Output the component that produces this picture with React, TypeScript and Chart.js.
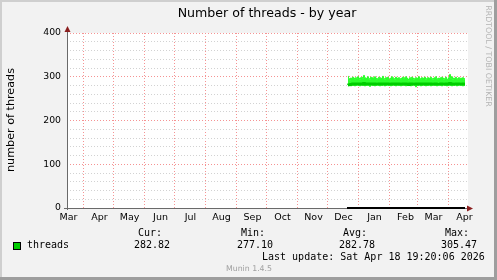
import React, { useEffect, useRef } from 'react';
import { Chart, registerables } from 'chart.js';

Chart.register(...registerables);

// ---- data ----
const monthNames = ['Mar', 'Apr', 'May', 'Jun', 'Jul', 'Aug', 'Sep', 'Oct', 'Nov', 'Dec', 'Jan', 'Feb', 'Mar', 'Apr'];
// day number (counted from 16 Mar 2025) of the first day of each month
const monthStartDays = [-15, 16, 46, 77, 107, 138, 169, 199, 230, 260, 291, 322, 350, 381];
const axisDays = [0, 400];
const yTicks = [0, 100, 200, 300, 400];

const firstDataDay = 281;
const threadsMax = [
  301, 296, 292, 297, 295, 299, 297, 293, 298, 296,
  300, 297, 294, 298, 299, 296, 303, 298, 295, 297,
  300, 296, 294, 299, 297, 298, 295, 300, 297, 293,
  296, 299, 298, 295, 297, 301, 296, 294, 298, 297,
  299, 295, 293, 297, 300, 298, 296, 294, 299, 297,
  295, 298, 296, 293, 297, 299, 296, 298, 300, 297,
  295, 292, 298, 296, 299, 297, 294, 296, 298, 295,
  297, 300, 296, 293, 298, 295, 297, 299, 294, 296,
  298, 297, 295, 299, 296, 294, 297, 298, 300, 296,
  293, 297, 295, 298, 299, 297, 294, 296, 299, 295,
  293, 298, 305, 296, 300, 294, 297, 295, 299, 296,
  293, 298, 296, 297, 295, 298, 294, 296,
];
const threadsMin = [
  279, 280, 281, 279, 281, 280, 281, 279, 280, 281,
  281, 280, 279, 281, 281, 280, 281, 279, 280, 281,
  281, 280, 278, 281, 281, 280, 281, 279, 280, 281,
  281, 280, 279, 281, 280, 281, 281, 279, 280, 281,
  281, 280, 281, 279, 280, 281, 281, 280, 279, 281,
  281, 280, 281, 279, 280, 281, 281, 280, 279, 281,
  280, 281, 281, 279, 280, 281, 281, 280, 277, 281,
  280, 281, 281, 279, 280, 281, 281, 280, 279, 281,
  280, 281, 281, 279, 280, 281, 281, 280, 281, 279,
  280, 281, 281, 280, 279, 281, 281, 280, 281, 279,
  280, 281, 281, 280, 279, 281, 280, 281, 281, 279,
  280, 281, 281, 280, 281, 279, 280, 281,
];
const threadsAvg = [
  281, 282, 282, 283, 283, 284, 283, 283, 284, 283,
  284, 283, 283, 284, 284, 283, 285, 284, 283, 283,
  284, 283, 283, 284, 283, 284, 283, 284, 283, 283,
  283, 284, 284, 283, 283, 284, 283, 283, 284, 283,
  284, 283, 283, 283, 284, 284, 283, 283, 284, 283,
  283, 284, 283, 283, 283, 284, 283, 284, 284, 283,
  283, 282, 284, 283, 284, 283, 283, 283, 284, 283,
  283, 284, 283, 283, 284, 283, 283, 284, 283, 283,
  284, 283, 283, 284, 283, 283, 283, 284, 284, 283,
  283, 283, 283, 284, 284, 283, 283, 283, 284, 283,
  283, 284, 285, 283, 284, 283, 283, 283, 284, 283,
  283, 284, 283, 283, 283, 284, 283, 283,
];
const baselineDays = [280, 398];
const baselineValues = [0, 0];

const seriesName = 'threads';
const statLabels = ['Cur:', 'Min:', 'Avg:', 'Max:'];
const statValues = ['282.82', '277.10', '282.78', '305.47'];
const titleText = 'Number of threads - by year';
const yAxisTitle = 'number of threads';
const lastUpdate = 'Last update: Sat Apr 18 19:20:06 2026';
const creditText = 'RRDTOOL / TOBI OETIKER';
const versionText = 'Munin 1.4.5';

// ---- styles ----
const W = 497;
const H = 280;
const SANS = '"DejaVu Sans", sans-serif';
const MONO = '"DejaVu Sans Mono", monospace';
const MAJOR_GRID = '#f59393';
const MINOR_GRID = '#d2d2d2';
const LINE_GREEN = '#00cc00';
const BAND_GREEN = '#2cff2c';
const ARROW = '#8b1f1f';
const AXIS = '#6a6a6a';

const labelDays = monthStartDays.map((d) => d + 16.5);

const framePlugin = {
  id: 'frame',
  beforeDraw(chart: any) {
    const { ctx, chartArea: a } = chart;
    ctx.save();
    ctx.fillStyle = '#ffffff';
    ctx.fillRect(a.left, a.top, a.right - a.left + 1, a.bottom - a.top);
    ctx.restore();
  },
  beforeDatasetsDraw(chart: any) {
    const { ctx, chartArea: a } = chart;
    ctx.save();
    ctx.strokeStyle = AXIS;
    ctx.lineWidth = 1;
    ctx.beginPath();
    ctx.moveTo(a.left - 3, a.bottom + 0.5);
    ctx.lineTo(a.right + 1, a.bottom + 0.5);
    ctx.moveTo(a.left + 0.5, a.bottom + 2);
    ctx.lineTo(a.left + 0.5, a.top - 2);
    ctx.stroke();
    ctx.restore();
  },
  afterDraw(chart: any) {
    const { ctx, chartArea: a } = chart;
    ctx.save();
    ctx.fillStyle = ARROW;
    ctx.beginPath();
    ctx.moveTo(a.left + 0.5, a.top - 7);
    ctx.lineTo(a.left - 2.5, a.top - 1);
    ctx.lineTo(a.left + 3.5, a.top - 1);
    ctx.closePath();
    ctx.fill();
    ctx.beginPath();
    ctx.moveTo(a.right + 6, a.bottom + 0.5);
    ctx.lineTo(a.right, a.bottom - 2.5);
    ctx.lineTo(a.right, a.bottom + 3.5);
    ctx.closePath();
    ctx.fill();
    ctx.restore();
  },
};

export default function App() {
  const ref = useRef<HTMLCanvasElement | null>(null);

  useEffect(() => {
    document.body.style.margin = '0';
    const canvas = ref.current;
    if (!canvas) return;

    const pts = (vals: number[]) => vals.map((y, i) => ({ x: firstDataDay + i, y }));

    const chart = new Chart(canvas, {
      type: 'line',
      data: {
        datasets: [
          {
            label: 'max',
            data: pts(threadsMax),
            borderColor: BAND_GREEN,
            backgroundColor: BAND_GREEN,
            borderWidth: 1,
            stepped: 'middle',
            fill: 1,
            order: 3,
            pointRadius: 0,
          },
          {
            label: 'min',
            data: pts(threadsMin),
            borderColor: BAND_GREEN,
            backgroundColor: BAND_GREEN,
            borderWidth: 1,
            stepped: 'middle',
            fill: false,
            order: 3,
            pointRadius: 0,
          },
          {
            label: seriesName,
            data: pts(threadsAvg),
            borderColor: LINE_GREEN,
            borderWidth: 2.5,
            stepped: 'middle',
            fill: false,
            order: 1,
            pointRadius: 0,
          },
          {
            label: 'baseline',
            data: baselineDays.map((x, i) => ({ x, y: baselineValues[i] })),
            borderColor: '#000000',
            borderWidth: 2,
            fill: false,
            order: 0,
            pointRadius: 0,
            clip: 4,
          } as any,
        ],
      },
      options: {
        responsive: false,
        maintainAspectRatio: false,
        animation: false,
        devicePixelRatio: 1,
        layout: { padding: { top: 33, right: 30, left: 0, bottom: 0 } },
        plugins: { legend: { display: false }, tooltip: { enabled: false }, title: { display: false } },
        scales: {
          x: {
            type: 'linear',
            min: axisDays[0],
            max: axisDays[1],
            afterFit: (s: any) => {
              s.height = 72;
            },
            afterBuildTicks: (s: any) => {
              const vals = [
                ...monthStartDays.filter((d) => d > axisDays[0] && d < axisDays[1]),
                ...labelDays.filter((d) => d > axisDays[0] && d < axisDays[1]),
              ].sort((p, q) => p - q);
              s.ticks = vals.map((value) => ({ value }));
            },
            border: { display: false, dash: [1, 2] },
            grid: {
              drawTicks: false,
              lineWidth: 1,
              color: (c: any) =>
                c.tick && monthStartDays.includes(c.tick.value) ? MAJOR_GRID : 'rgba(0,0,0,0)',
            },
            ticks: {
              autoSkip: false,
              maxRotation: 0,
              minRotation: 0,
              padding: 4,
              color: '#000',
              font: { family: SANS, size: 9.5 },
              callback: (v: any) => {
                const i = labelDays.indexOf(Number(v));
                return i >= 0 ? monthNames[i] : '';
              },
            },
          },
          y: {
            type: 'linear',
            min: yTicks[0],
            max: yTicks[yTicks.length - 1],
            afterFit: (s: any) => {
              s.width = 67;
            },
            border: { display: false, dash: [1, 2] },
            grid: {
              drawTicks: false,
              lineWidth: 1,
              color: (c: any) =>
                c.tick && yTicks.includes(c.tick.value) ? MAJOR_GRID : MINOR_GRID,
            },
            ticks: {
              stepSize: 20,
              autoSkip: false,
              padding: 6,
              color: '#000',
              font: { family: SANS, size: 9.3 },
              callback: (v: any) => (yTicks.includes(Number(v)) ? String(v) : ''),
            },
          },
        },
      },
      plugins: [framePlugin],
    } as any);

    return () => chart.destroy();
  }, []);

  const abs: React.CSSProperties = { position: 'absolute', whiteSpace: 'nowrap' };
  const statEnds = [162, 265, 367, 469];

  return (
    <div
      style={{
        position: 'relative',
        width: W,
        height: H,
        background: '#f2f2f2',
        overflow: 'hidden',
        fontFamily: SANS,
        color: '#000',
      }}
    >
      <canvas ref={ref} width={W} height={H} style={{ position: 'absolute', left: 0, top: 0, width: W, height: H }} />
      {/* frame */}
      <div style={{ position: 'absolute', left: 0, top: 0, width: 2, height: H, background: '#cfcfcf' }} />
      <div style={{ position: 'absolute', left: 0, top: 0, width: W, height: 2, background: '#cfcfcf' }} />
      <div style={{ position: 'absolute', right: 0, top: 0, width: 3, height: H, background: '#9e9e9e' }} />
      <div style={{ position: 'absolute', left: 0, bottom: 0, width: W, height: 3, background: '#9e9e9e' }} />

      {/* title */}
      <div style={{ ...abs, left: 67, width: 400, top: 5, textAlign: 'center', fontSize: 12.6, lineHeight: '16px' }}>
        {titleText}
      </div>
      {/* y axis title */}
      <div
        style={{
          ...abs,
          left: 11,
          top: 120,
          fontSize: 11.2,
          lineHeight: '14px',
          transform: 'translate(-50%, -50%) rotate(-90deg)',
        }}
      >
        {yAxisTitle}
      </div>
      {/* credit */}
      <div
        style={{
          ...abs,
          left: 488,
          top: 56,
          fontSize: 7.9,
          lineHeight: '10px',
          color: '#b4b4b4',
          transform: 'translate(-50%, -50%) rotate(90deg)',
        }}
      >
        {creditText}
      </div>

      {/* legend */}
      <div
        style={{
          position: 'absolute',
          left: 13,
          top: 242,
          width: 6,
          height: 6,
          background: LINE_GREEN,
          border: '1px solid #000',
        }}
      />
      <div style={{ ...abs, left: 27, top: 239, fontFamily: MONO, fontSize: 10, lineHeight: '12px' }}>{seriesName}</div>
      {statLabels.map((l, i) => (
        <div
          key={'l' + i}
          style={{ ...abs, right: W - statEnds[i], top: 227, fontFamily: MONO, fontSize: 10, lineHeight: '12px' }}
        >
          {l}
        </div>
      ))}
      {statValues.map((v, i) => (
        <div
          key={'v' + i}
          style={{ ...abs, right: W - statEnds[i] - 8, top: 239, fontFamily: MONO, fontSize: 10, lineHeight: '12px' }}
        >
          {v}
        </div>
      ))}
      <div style={{ ...abs, left: 262, top: 251, fontFamily: MONO, fontSize: 10, lineHeight: '12px' }}>{lastUpdate}</div>
      <div
        style={{
          ...abs,
          left: 249,
          top: 269,
          fontSize: 7.8,
          lineHeight: '10px',
          color: '#a0a0a0',
          transform: 'translate(-50%, -50%)',
        }}
      >
        {versionText}
      </div>
    </div>
  );
}
